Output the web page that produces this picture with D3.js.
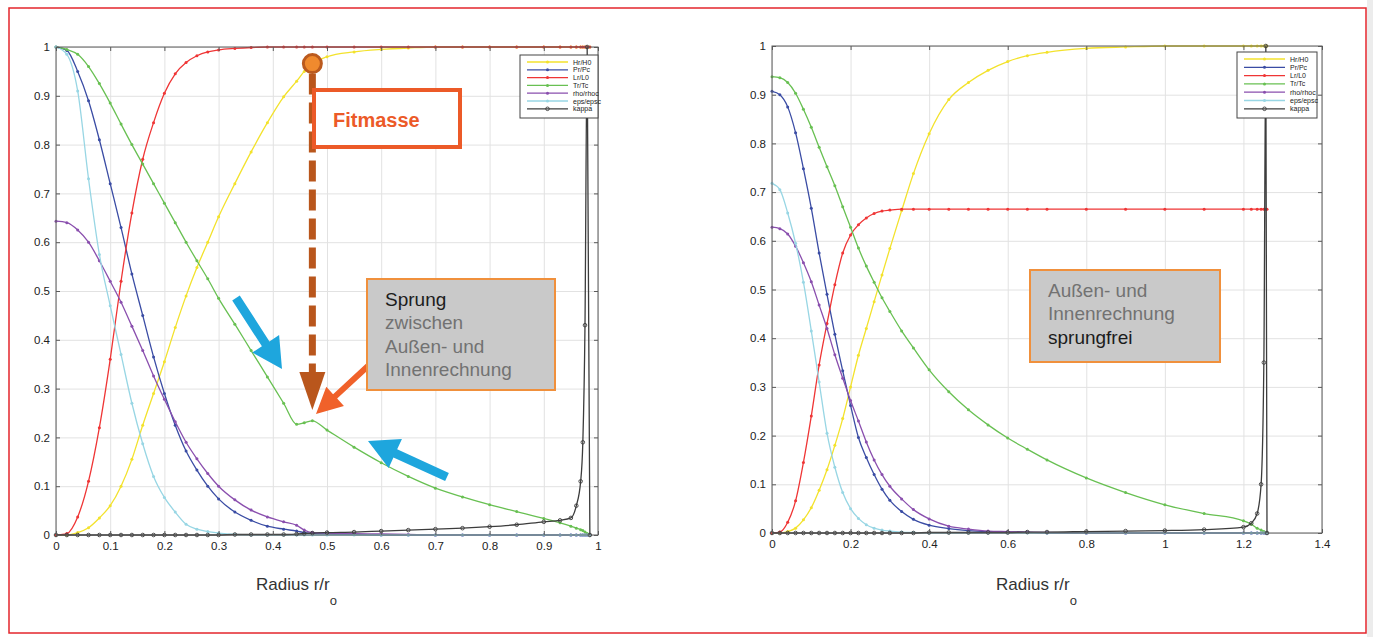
<!DOCTYPE html>
<html>
<head>
<meta charset="utf-8">
<script src="https://cdn.jsdelivr.net/npm/d3@7"></script>
<style>
  body { margin: 0; background: #fff; }
  svg text { font-family: Arial, "Liberation Sans", sans-serif; }
</style>
</head>
<body>
<svg id="fig" width="1373" height="637"></svg>
<script>
// ---- data ----
const seriesNames  = ["Hr/H0", "Pr/Pc", "Lr/L0", "Tr/Tc", "rho/rhoc", "eps/epsc", "kappa"];
const seriesColors = ["#f3e22c", "#3a4ca4", "#ef3535", "#68c052", "#8a4fae", "#98d6e4", "#3c3c3c"];

const yTicks = [0, 0.1, 0.2, 0.3, 0.4, 0.5, 0.6, 0.7, 0.8, 0.9, 1];
const yTickLabels = ["0", "0.1", "0.2", "0.3", "0.4", "0.5", "0.6", "0.7", "0.8", "0.9", "1"];
const leftXTicks = [0, 0.1, 0.2, 0.3, 0.4, 0.5, 0.6, 0.7, 0.8, 0.9, 1];
const leftXTickLabels = ["0", "0.1", "0.2", "0.3", "0.4", "0.5", "0.6", "0.7", "0.8", "0.9", "1"];
const rightXTicks = [0, 0.2, 0.4, 0.6, 0.8, 1, 1.2, 1.4];
const rightXTickLabels = ["0", "0.2", "0.4", "0.6", "0.8", "1", "1.2", "1.4"];

// left panel: with the jump between outer and inner solution
const leftR = [0, 0.02, 0.04, 0.06, 0.08, 0.10, 0.12, 0.14, 0.16, 0.18,
               0.20, 0.22, 0.24, 0.26, 0.28, 0.30, 0.33, 0.36, 0.39, 0.42,
               0.444, 0.458, 0.473, 0.5, 0.55, 0.6, 0.65, 0.7, 0.75, 0.8,
               0.85, 0.9, 0.93, 0.95, 0.96, 0.968, 0.972, 0.976, 0.98, 0.985];
const leftHr = [0, 0, 0.005, 0.015, 0.035, 0.06, 0.1, 0.155, 0.225, 0.29,
                0.355, 0.425, 0.49, 0.548, 0.6, 0.652, 0.72, 0.785, 0.845, 0.898,
                0.93, 0.95, 0.966, 0.98, 0.99, 0.995, 0.998, 1, 1, 1,
                1, 1, 1, 1, 1, 1, 1, 1, 1, 1];
const leftPr = [1, 0.993, 0.95, 0.89, 0.81, 0.72, 0.63, 0.535, 0.45, 0.365,
                0.29, 0.225, 0.172, 0.133, 0.1, 0.074, 0.047, 0.03, 0.018, 0.012,
                0.008, 0.005, 0.003, 0.002, 0.001, 0, 0, 0, 0, 0,
                0, 0, 0, 0, 0, 0, 0, 0, 0, 0];
const leftLr = [0, 0.003, 0.037, 0.11, 0.22, 0.36, 0.52, 0.66, 0.77, 0.845,
                0.905, 0.945, 0.968, 0.982, 0.99, 0.994, 0.997, 0.999, 1, 1,
                1, 1, 1, 1, 1, 1, 1, 1, 1, 1,
                1, 1, 1, 1, 1, 1, 1, 1, 1, 1];
const leftTr = [1, 0.995, 0.985, 0.96, 0.925, 0.885, 0.842, 0.8, 0.76, 0.72,
                0.68, 0.64, 0.6, 0.562, 0.525, 0.485, 0.432, 0.378, 0.324, 0.27,
                0.227, 0.23, 0.234, 0.215, 0.18, 0.148, 0.12, 0.096, 0.078, 0.062,
                0.048, 0.034, 0.025, 0.018, 0.014, 0.011, 0.009, 0.006, 0.003, 0];
const leftRho = [0.643, 0.64, 0.625, 0.6, 0.562, 0.52, 0.477, 0.428, 0.378, 0.326,
                 0.278, 0.232, 0.19, 0.156, 0.126, 0.1, 0.072, 0.051, 0.037, 0.027,
                 0.02, 0.01, 0.005, 0.004, 0.003, 0.002, 0.001, 0, 0, 0,
                 0, 0, 0, 0, 0, 0, 0, 0, 0, 0];
const leftEps = [1, 0.985, 0.91, 0.73, 0.575, 0.47, 0.37, 0.27, 0.187, 0.12,
                 0.077, 0.047, 0.022, 0.012, 0.007, 0.004, 0.001, 0, 0, 0,
                 0, 0, 0, 0, 0, 0, 0, 0, 0, 0,
                 0, 0, 0, 0, 0, 0, 0, 0, 0, 0];
const leftKappa = [0, 0, 0, 0, 0, 0, 0, 0, 0, 0,
                   0, 0, 0, 0, 0, 0, 0.001, 0.001, 0.001, 0.001,
                   0.002, 0.003, 0.004, 0.005, 0.006, 0.008, 0.01, 0.012, 0.014, 0.017,
                   0.021, 0.027, 0.03, 0.035, 0.06, 0.11, 0.19, 0.43, 1, 0];

// right panel: jump-free
const rightR = [0, 0.02, 0.04, 0.06, 0.08, 0.10, 0.12, 0.14, 0.16, 0.18,
                0.20, 0.22, 0.24, 0.26, 0.28, 0.30, 0.33, 0.36, 0.40, 0.45,
                0.5, 0.55, 0.6, 0.65, 0.7, 0.8, 0.9, 1.0, 1.1, 1.2,
                1.22, 1.235, 1.245, 1.252, 1.257, 1.26];
const rightHr = [0, 0, 0.003, 0.01, 0.027, 0.052, 0.088, 0.13, 0.18, 0.235,
                 0.3, 0.365, 0.42, 0.475, 0.53, 0.584, 0.662, 0.738, 0.82, 0.89,
                 0.925, 0.95, 0.968, 0.98, 0.987, 0.995, 0.998, 1, 1, 1,
                 1, 1, 1, 1, 1, 1];
const rightPr = [0.907, 0.9, 0.875, 0.822, 0.748, 0.667, 0.575, 0.49, 0.408, 0.333,
                 0.262, 0.196, 0.155, 0.12, 0.09, 0.067, 0.044, 0.028, 0.016, 0.009,
                 0.005, 0.003, 0.002, 0.001, 0, 0, 0, 0, 0, 0,
                 0, 0, 0, 0, 0, 0];
const rightLr = [0, 0.002, 0.022, 0.066, 0.145, 0.24, 0.345, 0.43, 0.51, 0.575,
                 0.612, 0.633, 0.647, 0.656, 0.661, 0.663, 0.665, 0.665, 0.665, 0.665,
                 0.665, 0.665, 0.665, 0.665, 0.665, 0.665, 0.665, 0.665, 0.665, 0.665,
                 0.665, 0.665, 0.665, 0.665, 0.665, 0.665];
const rightTr = [0.937, 0.935, 0.925, 0.903, 0.87, 0.833, 0.792, 0.752, 0.713, 0.67,
                 0.628, 0.585, 0.548, 0.515, 0.483, 0.455, 0.415, 0.38, 0.335, 0.29,
                 0.253, 0.222, 0.195, 0.172, 0.15, 0.113, 0.083, 0.058, 0.04, 0.025,
                 0.018, 0.01, 0.006, 0.003, 0.001, 0];
const rightRho = [0.628, 0.625, 0.614, 0.589, 0.555, 0.516, 0.468, 0.42, 0.366, 0.318,
                  0.272, 0.23, 0.187, 0.15, 0.12, 0.096, 0.07, 0.048, 0.029, 0.014,
                  0.008, 0.004, 0.003, 0.002, 0.001, 0, 0, 0, 0, 0,
                  0, 0, 0, 0, 0, 0];
const rightEps = [0.718, 0.705, 0.657, 0.595, 0.515, 0.415, 0.31, 0.205, 0.135, 0.083,
                  0.05, 0.03, 0.017, 0.01, 0.006, 0.004, 0.002, 0.001, 0, 0,
                  0, 0, 0, 0, 0, 0, 0, 0, 0, 0,
                  0, 0, 0, 0, 0, 0];
const rightKappa = [0, 0, 0, 0, 0, 0, 0, 0, 0, 0,
                    0, 0, 0, 0, 0, 0, 0, 0, 0.001, 0.001,
                    0.001, 0.001, 0.001, 0.002, 0.002, 0.003, 0.004, 0.005, 0.007, 0.012,
                    0.02, 0.04, 0.1, 0.35, 1, 0];

// ---- drawing ----
const svg = d3.select("#fig");

// outer red frame
svg.append("rect").attr("x", 1367).attr("y", 0).attr("width", 6).attr("height", 637)
   .attr("fill", "#ececec");
svg.append("rect").attr("x", 9).attr("y", 8).attr("width", 1357).attr("height", 625)
   .attr("fill", "#fff").attr("stroke", "#e4262c").attr("stroke-width", 1.5);

function drawPanel(p) {
  const x = d3.scaleLinear().domain(p.xDomain).range([p.left, p.right]);
  const y = d3.scaleLinear().domain([0, 1]).range([p.bottom, p.top]);
  const g = svg.append("g");
  const h = p.bottom - p.top, w = p.right - p.left;

  // grid
  g.append("g").attr("transform", "translate(0," + p.bottom + ")")
    .call(d3.axisBottom(x).tickValues(p.xTicks).tickSize(-h).tickFormat(""))
    .call(s => s.select(".domain").remove())
    .selectAll("line").attr("stroke", "#e2e2e2");
  g.append("g").attr("transform", "translate(" + p.left + ",0)")
    .call(d3.axisLeft(y).tickValues(yTicks).tickSize(-w).tickFormat(""))
    .call(s => s.select(".domain").remove())
    .selectAll("line").attr("stroke", "#e2e2e2");

  // series
  const line = d3.line().x(d => x(d[0])).y(d => y(d[1])).curve(d3.curveMonotoneX);
  p.series.forEach((vals, k) => {
    const pts = p.r.map((r, i) => [r, vals[i]]);
    g.append("path").datum(pts)
      .attr("fill", "none").attr("stroke", seriesColors[k])
      .attr("stroke-width", 1.3).attr("d", line);
    g.append("g").selectAll("circle").data(pts).enter().append("circle")
      .attr("cx", d => x(d[0])).attr("cy", d => y(d[1]))
      .attr("r", k === 6 ? 1.8 : 1.5)
      .attr("fill", k === 6 ? "none" : seriesColors[k])
      .attr("stroke", k === 6 ? seriesColors[k] : "none")
      .attr("stroke-width", 0.9);
  });

  // axes box and inward ticks
  g.append("rect").attr("x", p.left).attr("y", p.top).attr("width", w).attr("height", h)
    .attr("fill", "none").attr("stroke", "#5a5a5a").attr("stroke-width", 1);
  const xb = g.append("g").attr("transform", "translate(0," + p.bottom + ")")
    .call(d3.axisBottom(x).tickValues(p.xTicks).tickSize(-4).tickPadding(7)
      .tickFormat((d, i) => p.xTickLabels[i]));
  const xt = g.append("g").attr("transform", "translate(0," + p.top + ")")
    .call(d3.axisTop(x).tickValues(p.xTicks).tickSize(-4).tickFormat(""));
  const yl = g.append("g").attr("transform", "translate(" + p.left + ",0)")
    .call(d3.axisLeft(y).tickValues(yTicks).tickSize(-4).tickPadding(6)
      .tickFormat((d, i) => yTickLabels[i]));
  const yr = g.append("g").attr("transform", "translate(" + p.right + ",0)")
    .call(d3.axisRight(y).tickValues(yTicks).tickSize(-4).tickFormat(""));
  [xb, xt, yl, yr].forEach(a => {
    a.select(".domain").remove();
    a.selectAll("line").attr("stroke", "#5a5a5a");
    a.selectAll("text").attr("font-size", 11.5).attr("fill", "#222")
      .attr("font-family", "Arial, 'Liberation Sans', sans-serif");
  });

  // x label with subscript
  const lab = g.append("text").attr("x", p.labelX).attr("y", 590)
    .attr("font-family", "'Open Sans', sans-serif").attr("font-size", 17).attr("fill", "#333");
  lab.append("tspan").text("Radius r/r");
  lab.append("tspan").attr("dy", 15).attr("font-size", 13).text("o");

  // legend
  const lg = g.append("g").attr("transform", "translate(" + p.legend[0] + "," + p.legend[1] + ")");
  lg.append("rect").attr("width", p.legend[2]).attr("height", p.legend[3])
    .attr("fill", "#fff").attr("stroke", "#444").attr("stroke-width", 1);
  seriesNames.forEach((name, k) => {
    const yy = 7 + k * p.legendStep;
    lg.append("line").attr("x1", 7).attr("x2", p.legendLine).attr("y1", yy).attr("y2", yy)
      .attr("stroke", seriesColors[k]).attr("stroke-width", 1.3);
    lg.append("circle").attr("cx", (7 + p.legendLine) / 2).attr("cy", yy)
      .attr("r", k === 6 ? 1.8 : 1.5)
      .attr("fill", k === 6 ? "none" : seriesColors[k])
      .attr("stroke", k === 6 ? seriesColors[k] : "none").attr("stroke-width", 0.9);
    lg.append("text").attr("x", p.legendLine + 5).attr("y", yy + 2.5)
      .attr("font-size", 7).attr("fill", "#222").text(name);
  });
  return { x, y };
}

const left = drawPanel({
  left: 56, right: 598, top: 47, bottom: 535, xDomain: [0, 1],
  xTicks: leftXTicks, xTickLabels: leftXTickLabels,
  r: leftR, series: [leftHr, leftPr, leftLr, leftTr, leftRho, leftEps, leftKappa],
  labelX: 256, legend: [520, 55, 78, 63], legendStep: 7.8, legendLine: 48
});
const right = drawPanel({
  left: 772, right: 1322, top: 46, bottom: 533, xDomain: [0, 1.4],
  xTicks: rightXTicks, xTickLabels: rightXTickLabels,
  r: rightR, series: [rightHr, rightPr, rightLr, rightTr, rightRho, rightEps, rightKappa],
  labelX: 996, legend: [1237, 52, 80, 66], legendStep: 8.3, legendLine: 48
});

// ---- annotations ----
function arrowPoints(x1, y1, x2, y2, w, hl, hw) {
  const dx = x2 - x1, dy = y2 - y1, len = Math.hypot(dx, dy);
  const ux = dx / len, uy = dy / len, px = -uy, py = ux;
  const bx = x2 - ux * hl, by = y2 - uy * hl;
  return [
    [x1 + px * w / 2, y1 + py * w / 2], [bx + px * w / 2, by + py * w / 2],
    [bx + px * hw, by + py * hw], [x2, y2], [bx - px * hw, by - py * hw],
    [bx - px * w / 2, by - py * w / 2], [x1 - px * w / 2, y1 - py * w / 2]
  ].map(q => q.join(",")).join(" ");
}
const ann = svg.append("g");

// Fitmasse marker and dashed drop line
const fx = left.x(0.473), fy = left.y(0.966);
ann.append("line").attr("x1", fx).attr("x2", fx).attr("y1", fy + 10).attr("y2", 374)
  .attr("stroke", "#b9561c").attr("stroke-width", 7).attr("stroke-dasharray", "21,8");
ann.append("polygon").attr("points", [[fx - 13, 372], [fx + 13, 372], [fx, 410]].join(" "))
  .attr("fill", "#b9561c");
ann.append("circle").attr("cx", fx).attr("cy", fy).attr("r", 9)
  .attr("fill", "#f08a2e").attr("stroke", "#bb5a1e").attr("stroke-width", 3);
ann.append("rect").attr("x", 314).attr("y", 90).attr("width", 146).attr("height", 57)
  .attr("fill", "#fff").attr("stroke", "#ec5a28").attr("stroke-width", 4);
ann.append("text").attr("x", 333).attr("y", 127)
  .attr("font-family", "'Open Sans', sans-serif").attr("font-weight", 700)
  .attr("font-size", 20).attr("fill", "#ec5a28").text("Fitmasse");

// Sprung box
ann.append("polygon").attr("points", arrowPoints(368, 366, 316, 414, 6, 26, 13))
  .attr("fill", "#f0612a");
ann.append("rect").attr("x", 367).attr("y", 279).attr("width", 188).attr("height", 111)
  .attr("fill", "#c9c9c9").attr("stroke", "#f0903c").attr("stroke-width", 2);
[["Sprung", "#1c1c1c"], ["zwischen", "#727272"], ["Außen- und", "#727272"], ["Innenrechnung", "#727272"]]
  .forEach((t, i) => {
    ann.append("text").attr("x", 385).attr("y", 306 + i * 23.3)
      .attr("font-size", 19).attr("fill", t[1]).text(t[0]);
  });

// blue arrows
ann.append("polygon").attr("points", arrowPoints(236, 298, 282, 369, 9, 30, 16)).attr("fill", "#1ea6dd");
ann.append("polygon").attr("points", arrowPoints(447, 477, 368, 441, 9, 30, 16)).attr("fill", "#1ea6dd");

// right box
ann.append("rect").attr("x", 1030).attr("y", 270).attr("width", 190).attr("height", 92)
  .attr("fill", "#c9c9c9").attr("stroke", "#f0903c").attr("stroke-width", 2);
[["Außen- und", "#727272"], ["Innenrechnung", "#727272"], ["sprungfrei", "#1c1c1c"]]
  .forEach((t, i) => {
    ann.append("text").attr("x", 1048).attr("y", 297 + i * 23.3)
      .attr("font-size", 19).attr("fill", t[1]).text(t[0]);
  });
</script>
</body>
</html>
